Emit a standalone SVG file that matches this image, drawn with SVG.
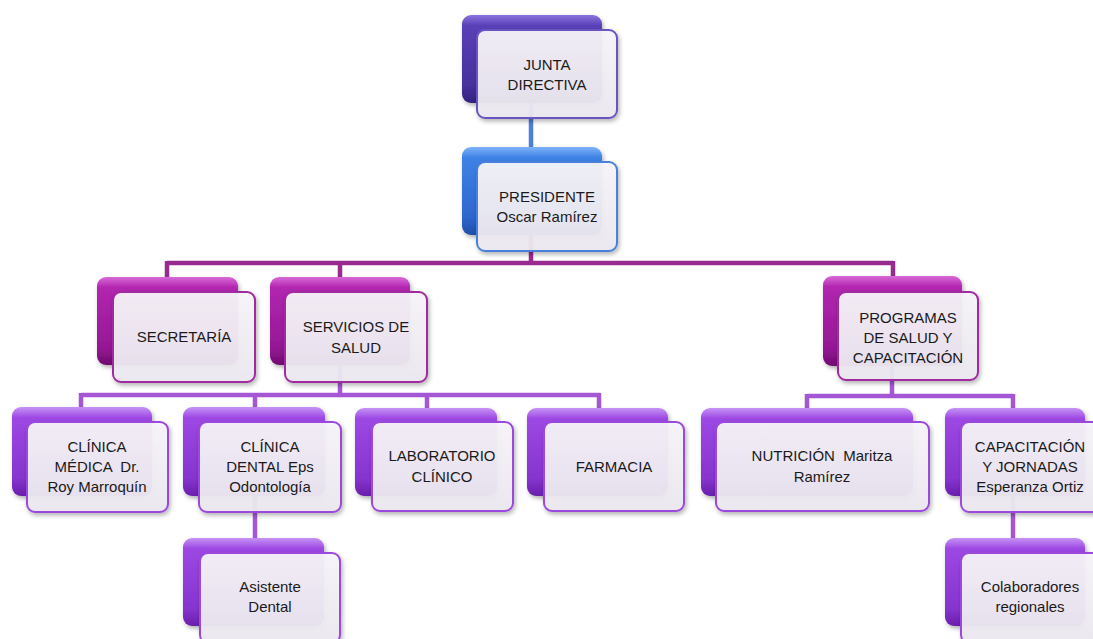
<svg xmlns="http://www.w3.org/2000/svg" width="1093" height="639" viewBox="0 0 1093 639">
<defs>
<linearGradient id="gIndigo" x1="0" y1="0" x2="0" y2="1">
<stop offset="0" stop-color="#8a74de"/><stop offset="0.12" stop-color="#5a40b8"/><stop offset="0.8" stop-color="#45309c"/><stop offset="1" stop-color="#33217e"/>
</linearGradient>
<linearGradient id="gBlue" x1="0" y1="0" x2="0" y2="1">
<stop offset="0" stop-color="#7fb2f8"/><stop offset="0.12" stop-color="#3f82e6"/><stop offset="0.8" stop-color="#2e66cc"/><stop offset="1" stop-color="#1f4ea8"/>
</linearGradient>
<linearGradient id="gMag" x1="0" y1="0" x2="0" y2="1">
<stop offset="0" stop-color="#d86ad6"/><stop offset="0.12" stop-color="#b226b0"/><stop offset="0.8" stop-color="#951895"/><stop offset="1" stop-color="#700c70"/>
</linearGradient>
<linearGradient id="gVio" x1="0" y1="0" x2="0" y2="1">
<stop offset="0" stop-color="#c693f5"/><stop offset="0.12" stop-color="#9d48e4"/><stop offset="0.8" stop-color="#8634cf"/><stop offset="1" stop-color="#6a1fab"/>
</linearGradient>
<linearGradient id="gFront" x1="0" y1="0" x2="0" y2="1">
<stop offset="0" stop-color="#f7f5f9"/><stop offset="1" stop-color="#ece8f0"/>
</linearGradient>
<filter id="sh" x="-10%" y="-10%" width="125%" height="130%">
<feDropShadow dx="1.5" dy="2.5" stdDeviation="2" flood-color="#000" flood-opacity="0.3"/>
</filter>
<style>
.back{filter:url(#sh)}
.front{fill:url(#gFront);fill-opacity:0.94;stroke-width:2;filter:url(#sh)}
.ind .back{fill:url(#gIndigo)} .ind .front{stroke:#6a55c0}
.blu .back{fill:url(#gBlue)} .blu .front{stroke:#4a80dc}
.mag .back{fill:url(#gMag)} .mag .front{stroke:#a02aa0}
.vio .back{fill:url(#gVio)} .vio .front{stroke:#9a48dc}
text{font-family:"Liberation Sans",Arial,sans-serif;font-size:15px;fill:#1a1a1a;text-anchor:middle;white-space:pre}
.c{fill:none;stroke-width:4.5;stroke-linecap:butt}
.cb{stroke:#4f7fd8}.cm{stroke:#992a90}.cv{stroke:#a456d4}
</style>
</defs>
<rect width="1093" height="639" fill="#ffffff"/>
<g id="connectors">
<path class="c cb" d="M531 103V147"/>
<path class="c cm" d="M531 235V263M167 263H893M167 261V277M340 261V277M893 261V277"/>
<path class="c cv" d="M340 365V395M81 395H600M81 393V408M255 393V408M427 393V408M599 393V408"/>
<path class="c cv" d="M892 366V396M807 396H1013M807 394V408M1013 394V408"/>
<path class="c cv" d="M255 496V538"/>
<path class="c cv" d="M1013 496V538"/>
</g>
<g id="junta" class="ind">
<rect class="back" x="462" y="15" width="140" height="88" rx="9"/>
<rect class="front" x="477" y="30" width="140" height="88" rx="8"/>
<text x="547" y="70">JUNTA</text><text x="547" y="90">DIRECTIVA</text>
</g>
<g id="presidente" class="blu">
<rect class="back" x="462" y="147" width="140" height="88" rx="9"/>
<rect class="front" x="477" y="162" width="140" height="89" rx="8"/>
<text x="547" y="202">PRESIDENTE</text><text x="547" y="222">Oscar Ramírez</text>
</g>
<g id="secretaria" class="mag">
<rect class="back" x="97" y="277" width="141" height="88" rx="9"/>
<rect class="front" x="113" y="292" width="142" height="90" rx="8"/>
<text x="184" y="342">SECRETARÍA</text>
</g>
<g id="servicios" class="mag">
<rect class="back" x="270" y="277" width="140" height="88" rx="9"/>
<rect class="front" x="285" y="292" width="142" height="90" rx="8"/>
<text x="356" y="332">SERVICIOS DE</text><text x="356" y="353">SALUD</text>
</g>
<g id="programas" class="mag">
<rect class="back" x="823" y="276" width="139" height="90" rx="9"/>
<rect class="front" x="838" y="292" width="140" height="88" rx="8"/>
<text x="908" y="323">PROGRAMAS</text><text x="908" y="343">DE SALUD Y</text><text x="908" y="363">CAPACITACIÓN</text>
</g>
<g id="clinica-medica" class="vio">
<rect class="back" x="12" y="407" width="140" height="89" rx="9"/>
<rect class="front" x="27" y="422" width="141" height="90" rx="8"/>
<text x="97" y="452">CLÍNICA</text><text x="97" y="472">MÉDICA  Dr.</text><text x="97" y="492">Roy Marroquín</text>
</g>
<g id="clinica-dental" class="vio">
<rect class="back" x="183" y="407" width="142" height="89" rx="9"/>
<rect class="front" x="199" y="422" width="142" height="90" rx="8"/>
<text x="270" y="452">CLÍNICA</text><text x="270" y="472">DENTAL Eps</text><text x="270" y="492">Odontología</text>
</g>
<g id="laboratorio" class="vio">
<rect class="back" x="355" y="408" width="142" height="88" rx="9"/>
<rect class="front" x="372" y="422" width="141" height="89" rx="8"/>
<text x="442" y="461">LABORATORIO</text><text x="442" y="482">CLÍNICO</text>
</g>
<g id="farmacia" class="vio">
<rect class="back" x="527" y="408" width="141" height="88" rx="9"/>
<rect class="front" x="544" y="422" width="140" height="89" rx="8"/>
<text x="614" y="472">FARMACIA</text>
</g>
<g id="nutricion" class="vio">
<rect class="back" x="701" y="408" width="212" height="88" rx="9"/>
<rect class="front" x="716" y="422" width="213" height="89" rx="8"/>
<text x="822" y="461">NUTRICIÓN  Maritza</text><text x="822" y="482">Ramírez</text>
</g>
<g id="capacitacion" class="vio">
<rect class="back" x="945" y="408" width="140" height="88" rx="9"/>
<rect class="front" x="961" y="422" width="140" height="90" rx="8"/>
<text x="1030" y="452">CAPACITACIÓN</text><text x="1030" y="472">Y JORNADAS</text><text x="1030" y="492">Esperanza Ortiz</text>
</g>
<g id="asistente" class="vio">
<rect class="back" x="183" y="538" width="141" height="88" rx="9"/>
<rect class="front" x="200" y="553" width="140" height="90" rx="8"/>
<text x="270" y="592">Asistente</text><text x="270" y="612">Dental</text>
</g>
<g id="colaboradores" class="vio">
<rect class="back" x="945" y="538" width="140" height="88" rx="9"/>
<rect class="front" x="961" y="553" width="140" height="90" rx="8"/>
<text x="1030" y="592">Colaboradores</text><text x="1030" y="612">regionales</text>
</g>
</svg>
